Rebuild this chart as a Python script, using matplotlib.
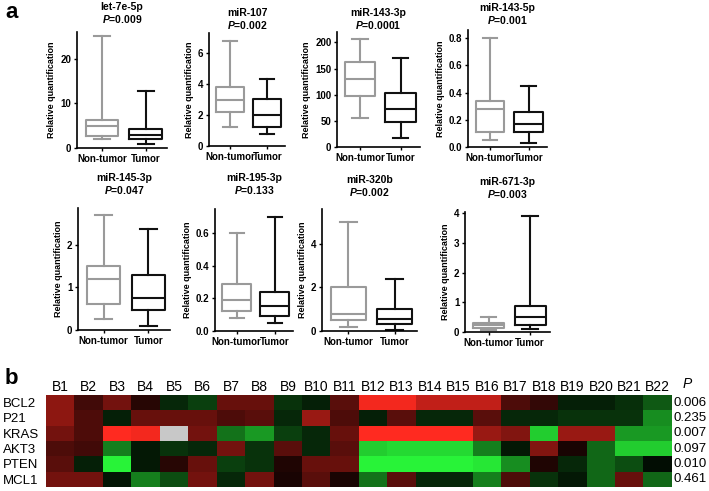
import numpy as np
import matplotlib
matplotlib.use("Agg")
import matplotlib.pyplot as plt
from matplotlib.colors import LinearSegmentedColormap
from matplotlib.ticker import FormatStrFormatter

plt.rcParams['font.family'] = ['Liberation Sans', 'DejaVu Sans']
plt.rcParams['mathtext.fontset'] = 'custom'
plt.rcParams['mathtext.it'] = 'Liberation Sans:italic:bold'
plt.rcParams['mathtext.rm'] = 'Liberation Sans:bold'

# panel a: box plot summaries (whislo, q1, med, q3, whishi)
mirnas = ["let-7e-5p", "miR-107", "miR-143-3p", "miR-143-5p",
          "miR-145-3p", "miR-195-3p", "miR-320b", "miR-671-3p"]
p_values = ["0.009", "0.002", "0.0001", "0.001", "0.047", "0.133", "0.002", "0.003"]
groups = ["Non-tumor", "Tumor"]
non_tumor = [
    [2.0, 2.7, 5.0, 6.2, 25.0],
    [1.2, 2.2, 3.0, 3.8, 6.8],
    [55, 98, 130, 162, 207],
    [0.05, 0.11, 0.28, 0.34, 0.80],
    [0.25, 0.62, 1.2, 1.5, 2.7],
    [0.08, 0.125, 0.19, 0.29, 0.60],
    [0.2, 0.5, 0.8, 2.0, 5.0],
    [0.08, 0.15, 0.22, 0.30, 0.50],
]
tumor = [
    [0.8, 2.0, 3.0, 4.3, 12.7],
    [0.8, 1.2, 2.0, 3.05, 4.3],
    [17, 47, 73, 103, 170],
    [0.03, 0.11, 0.17, 0.26, 0.45],
    [0.1, 0.47, 0.75, 1.3, 2.37],
    [0.05, 0.095, 0.155, 0.24, 0.70],
    [0.05, 0.3, 0.55, 1.0, 2.4],
    [0.1, 0.22, 0.5, 0.88, 3.9],
]
y_tops = [26, 7.3, 220, 0.86, 2.87, 0.75, 5.6, 4.05]
y_ticks = [[0, 10, 20], [0, 2, 4, 6], [0, 50, 100, 150, 200], [0, 0.2, 0.4, 0.6, 0.8],
           [0, 1, 2], [0, 0.2, 0.4, 0.6], [0, 2, 4], [0, 1, 2, 3, 4]]
decimal_axes = [3, 5]

# panel b: heatmap (positive = red, negative = green, nan = missing)
genes = ["BCL2", "P21", "KRAS", "AKT3", "PTEN", "MCL1"]
samples = ["B%d" % i for i in range(1, 23)]
gene_p = ["0.006", "0.235", "0.007", "0.097", "0.010", "0.461"]
heat = np.array([
    [0.55, 0.25, 0.45, 0.15, -0.15, -0.25, 0.4, 0.4, -0.2, -0.12, 0.35, 0.95, 0.95, 0.75, 0.75, 0.75, 0.3, 0.2, -0.12, -0.12, -0.18, -0.35],
    [0.55, 0.3, -0.12, 0.4, 0.4, 0.4, 0.3, 0.35, -0.15, 0.6, 0.3, -0.12, 0.35, -0.15, -0.15, 0.35, -0.15, -0.15, -0.2, -0.2, -0.2, -0.55],
    [0.45, 0.3, 1.0, 0.95, np.nan, 0.45, -0.45, -0.6, -0.25, -0.15, 0.4, 1.0, 1.0, 1.0, 1.0, 0.6, 0.5, -0.8, 0.6, 0.6, -0.6, -0.6],
    [0.3, 0.25, -0.5, -0.1, -0.2, -0.15, 0.45, -0.2, 0.35, -0.15, 0.35, -0.8, -0.85, -0.85, -0.85, -0.5, -0.1, 0.5, 0.1, -0.4, -0.8, -0.8],
    [0.35, -0.12, -0.95, -0.1, 0.15, 0.4, -0.25, -0.2, 0.12, 0.4, 0.4, -0.95, -0.95, -0.95, -0.95, -0.9, -0.55, 0.12, -0.15, -0.4, -0.3, -0.05],
    [0.45, 0.45, -0.08, -0.5, -0.3, 0.45, -0.15, 0.45, 0.1, 0.35, 0.1, -0.45, 0.35, -0.15, -0.15, -0.5, 0.3, -0.2, -0.1, -0.4, 0.4, -0.4],
])

W, H = 709, 491
fig = plt.figure(figsize=(W / 100, H / 100), dpi=100)

# axes boxes in pixels: left, right, top, bottom
boxes = [(77, 167, 32, 148), (209, 285, 33, 146), (337, 420, 32, 147), (468, 547, 30, 147),
         (78, 170, 208, 330), (215, 293, 209, 331), (322, 417, 209, 331), (465, 550, 212, 332)]
# pixel y of the P= line of each title
title_y = [19, 25, 25, 20, 190, 190, 192, 194]

for i, name in enumerate(mirnas):
    l, r, t, b = boxes[i]
    ax = fig.add_axes([l / W, 1 - b / H, (r - l) / W, (b - t) / H])
    stats = []
    for g, s in zip(groups, [non_tumor[i], tumor[i]]):
        stats.append(dict(label=g, whislo=s[0], q1=s[1], med=s[2], q3=s[3], whishi=s[4], fliers=[]))
    parts = ax.bxp(stats, positions=[1, 2], widths=0.75, showfliers=False, patch_artist=False,
                   manage_ticks=False)
    colors = ["#9a9a9a", "#111111"]
    for j, c in enumerate(colors):
        parts['boxes'][j].set(color=c, linewidth=1.5)
        parts['medians'][j].set(color=c, linewidth=1.5)
        for k in (2 * j, 2 * j + 1):
            parts['whiskers'][k].set(color=c, linewidth=1.5)
            parts['caps'][k].set(color=c, linewidth=1.5)
    ax.set_xlim(0.43, 2.48)
    ax.set_ylim(0, y_tops[i])
    ax.set_xticks([1, 2])
    ax.set_xticklabels(groups, fontsize=7, fontweight='bold')
    ax.set_yticks(y_ticks[i])
    if i in decimal_axes:
        ax.yaxis.set_major_formatter(FormatStrFormatter('%.1f'))
    for lab in ax.get_yticklabels():
        lab.set_fontweight('bold')
        lab.set_fontsize(7)
    ax.tick_params(length=2.5, width=1, pad=1.5)
    for sp in ['top', 'right']:
        ax.spines[sp].set_visible(False)
    for sp in ['left', 'bottom']:
        ax.spines[sp].set_linewidth(1.2)
    ax.set_ylabel("Relative quantification", fontsize=6.5, fontweight='bold', labelpad=3)
    cx = (l + r) / 2 / W
    ty = 1 - title_y[i] / H
    fig.text(cx, ty + 12 / H, name, fontsize=7.5, fontweight='bold', ha='center', va='center')
    fig.text(cx, ty, "$P$=" + p_values[i], fontsize=7.5, fontweight='bold', ha='center', va='center')

fig.text(5 / W, 1 - 13 / H, "a", fontsize=16, fontweight='bold', va='center')
fig.text(5 / W, 1 - 378 / H, "b", fontsize=16, fontweight='bold', va='center')

# heatmap
cmap = LinearSegmentedColormap.from_list("rg", ["#2bff3b", "#000000", "#ff2a20"])
cmap.set_bad("#c8c8c8")
hl, hr, ht, hb = 46, 672, 395, 487
hax = fig.add_axes([hl / W, 1 - hb / H, (hr - hl) / W, (hb - ht) / H])
hax.imshow(np.ma.masked_invalid(heat), cmap=cmap, vmin=-1, vmax=1, aspect='auto',
           interpolation='nearest')
hax.set_xticks(range(len(samples)))
hax.set_xticklabels(samples, fontsize=10)
hax.xaxis.tick_top()
hax.set_yticks(range(len(genes)))
hax.set_yticklabels(genes, fontsize=9.5, ha='left')
hax.tick_params(length=0, pad=1)
hax.tick_params(axis='y', pad=31)
for sp in hax.spines.values():
    sp.set_visible(False)
for j, p in enumerate(gene_p):
    hax.text(1.002, j, p, transform=hax.get_yaxis_transform(), fontsize=9.5, va='center', ha='left')
hax.text(1.025, -0.75, "P", transform=hax.get_yaxis_transform(), fontsize=10, fontstyle='italic',
         va='bottom', ha='center')

fig.savefig("out.png", dpi=100)
